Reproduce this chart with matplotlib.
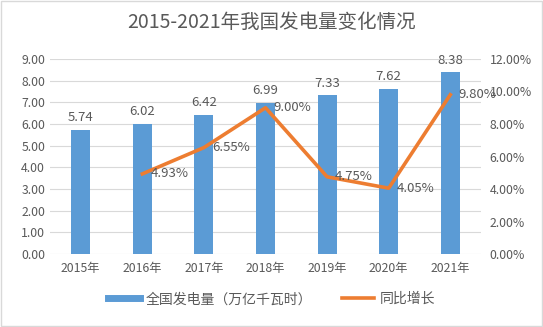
import numpy as np
import matplotlib
matplotlib.use("Agg")
import matplotlib.pyplot as plt
from matplotlib.ticker import FuncFormatter
from matplotlib.lines import Line2D

plt.rcParams['font.family'] = ['Noto Sans CJK SC', 'DejaVu Sans']

years = ['2015年', '2016年', '2017年', '2018年', '2019年', '2020年', '2021年']
generation = [5.74, 6.02, 6.42, 6.99, 7.33, 7.62, 8.38]
growth = [np.nan, 4.93, 6.55, 9.00, 4.75, 4.05, 9.80]

title = '2015-2021年我国发电量变化情况'
bar_label = '全国发电量（万亿千瓦时）'
line_label = '同比增长'

BLUE = '#5B9BD5'
ORANGE = '#ED7D31'
TXT = '#595959'
GRID = '#D9D9D9'

fig = plt.figure(figsize=(5.43, 3.27), dpi=100)
fig.patch.set_facecolor('white')
fig.add_artist(plt.Rectangle((0.002, 0.003), 0.996, 0.994, transform=fig.transFigure,
                             fill=False, edgecolor='#D9D9D9', linewidth=1))

ax = fig.add_axes([0.092, 0.2232, 0.794, 0.5964])
x = np.arange(len(years))
ax.bar(x, generation, width=0.31, color=BLUE, zorder=2)
ax.set_ylim(0, 9)
ax.set_yticks(np.arange(0, 9.01, 1))
ax.yaxis.set_major_formatter(FuncFormatter(lambda v, p: f'{v:.2f}'))
ax.set_xlim(-0.5, len(years) - 0.5)
ax.set_xticks(x)
ax.set_xticklabels(years)
ax.grid(axis='y', color=GRID, linewidth=0.8, zorder=0)
for s in ax.spines.values():
    s.set_visible(False)
ax.tick_params(length=0, colors=TXT, labelsize=8.8)
ax.tick_params(axis='x', pad=6)
for xi, v in zip(x, generation):
    ax.text(xi, v + 0.25, f'{v:.2f}', ha='center', va='bottom', fontsize=9.5, color=TXT)

ax2 = ax.twinx()
ax2.plot(x, growth, color=ORANGE, linewidth=2.6, zorder=3, solid_joinstyle='round')
ax2.set_ylim(0, 12)
ax2.set_yticks(np.arange(0, 12.01, 2))
ax2.yaxis.set_major_formatter(FuncFormatter(lambda v, p: f'{v:.2f}%'))
for s in ax2.spines.values():
    s.set_visible(False)
ax2.tick_params(length=0, colors=TXT, labelsize=8.8, pad=6)
for xi, v in zip(x, growth):
    if not np.isnan(v):
        ax2.text(xi + 0.13, v, f'{v:.2f}%', ha='left', va='center', fontsize=9.5, color=TXT, zorder=4)

fig.text(0.5, 0.932, title, ha='center', va='center', fontsize=14, color=TXT)

handles = [Line2D([0], [0], color=BLUE, linewidth=5),
           Line2D([0], [0], color=ORANGE, linewidth=2.6)]
fig.legend(handles, [bar_label, line_label], loc='center', bbox_to_anchor=(0.5, 0.085),
           ncol=2, frameon=False, fontsize=10, labelcolor=TXT, handlelength=2.3,
           columnspacing=2.2, handletextpad=0.4)

fig.savefig('out.png', dpi=100, facecolor='white')
